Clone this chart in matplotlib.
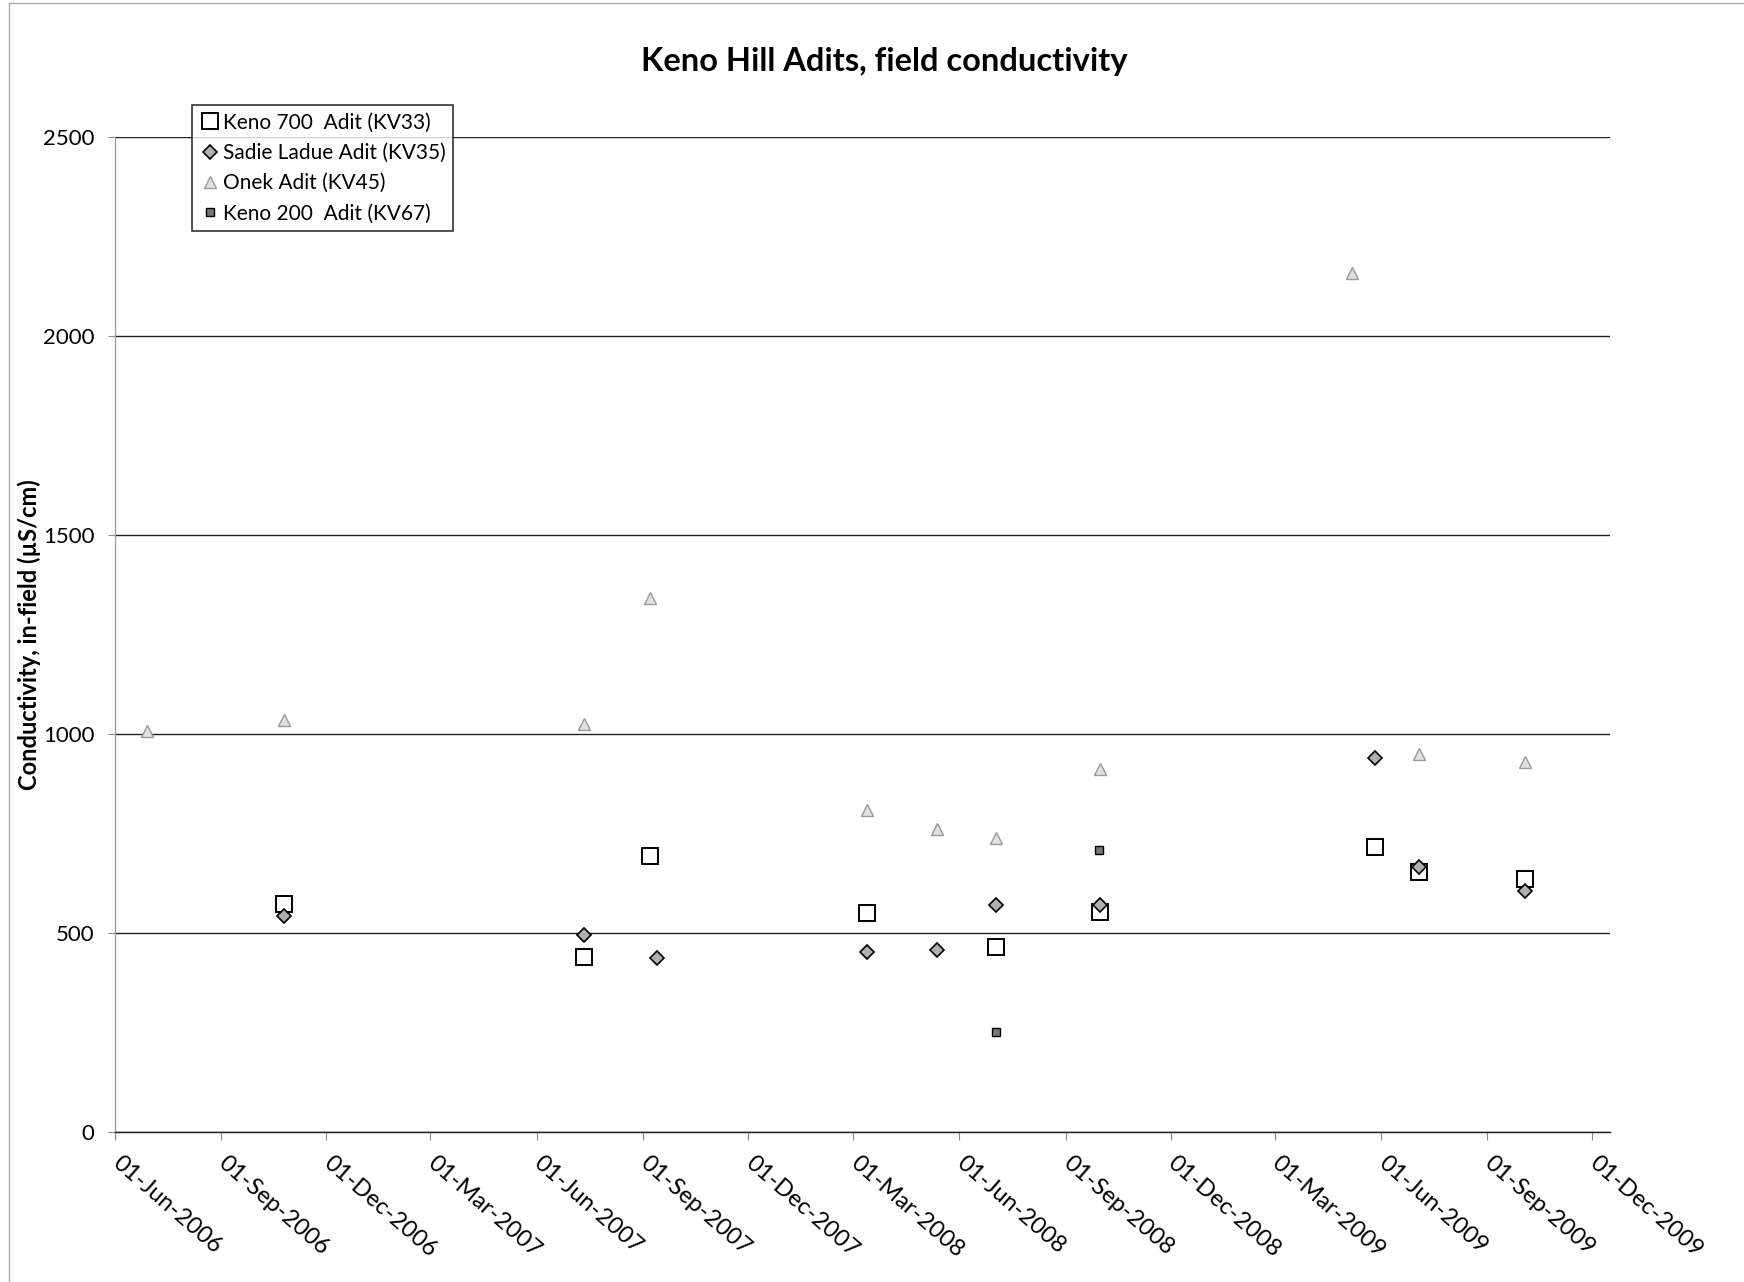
import datetime as dt
import matplotlib
matplotlib.use('Agg')
import matplotlib.pyplot as plt
import matplotlib.dates as mdates
from matplotlib.lines import Line2D

plt.rcParams['font.family'] = ['Lato', 'DejaVu Sans']

D = dt.date

# Keno 700 Adit (KV33)
kv33_dates = [D(2006, 10, 25), D(2007, 7, 12), D(2007, 9, 7), D(2008, 3, 13), D(2008, 7, 3),
              D(2008, 10, 1), D(2009, 5, 27), D(2009, 7, 4), D(2009, 10, 4)]
kv33_vals = [573, 441, 693, 550, 466, 553, 715, 654, 637]

# Sadie Ladue Adit (KV35)
kv35_dates = [D(2006, 10, 25), D(2007, 7, 12), D(2007, 9, 13), D(2008, 3, 13), D(2008, 5, 13),
              D(2008, 7, 3), D(2008, 10, 1), D(2009, 5, 27), D(2009, 7, 4), D(2009, 10, 4)]
kv35_vals = [542, 494, 438, 452, 458, 570, 570, 941, 665, 606]

# Onek Adit (KV45)
kv45_dates = [D(2006, 6, 29), D(2006, 10, 25), D(2007, 7, 12), D(2007, 9, 7), D(2008, 3, 13),
              D(2008, 5, 13), D(2008, 7, 3), D(2008, 10, 1), D(2009, 5, 7), D(2009, 7, 4),
              D(2009, 10, 4)]
kv45_vals = [1008, 1036, 1025, 1343, 810, 762, 740, 911, 2159, 950, 930]

# Keno 200 Adit (KV67)
kv67_dates = [D(2008, 7, 3), D(2008, 9, 30)]
kv67_vals = [251, 709]

series = [
    ('Keno 700  Adit (KV33)', kv33_dates, kv33_vals,
     dict(marker='s', ms=12, mfc='white', mec='black', mew=1.4)),
    ('Sadie Ladue Adit (KV35)', kv35_dates, kv35_vals,
     dict(marker='D', ms=7, mfc='#b0b0b0', mec='black', mew=1.2)),
    ('Onek Adit (KV45)', kv45_dates, kv45_vals,
     dict(marker='^', ms=9, mfc='#e0e0e0', mec='#9a9a9a', mew=1.0)),
    ('Keno 200  Adit (KV67)', kv67_dates, kv67_vals,
     dict(marker='s', ms=6, mfc='#777777', mec='black', mew=1.0)),
]

fig = plt.figure(figsize=(17.44, 12.82), dpi=100)
ax = fig.add_axes([0.066, 0.117, 0.857, 0.776])

for name, dates, vals, style in series:
    ax.plot(dates, vals, linestyle='none', label=name, **style)

ax.set_ylim(0, 2500)
ax.set_yticks([0, 500, 1000, 1500, 2000, 2500])
ax.set_xlim(D(2006, 6, 1), D(2009, 12, 16))
ax.xaxis.set_major_locator(mdates.MonthLocator(bymonth=[3, 6, 9, 12], bymonthday=1))
ax.xaxis.set_major_formatter(mdates.DateFormatter('%d-%b-%Y'))

ax.yaxis.grid(True, color='#222222', lw=1.0)
ax.set_axisbelow(True)
for s in ['top', 'right']:
    ax.spines[s].set_visible(False)
ax.spines['left'].set_color('#999999')
ax.spines['left'].set_linewidth(0.9)
ax.spines['bottom'].set_color('#222222')
ax.spines['bottom'].set_linewidth(1.0)

ax.tick_params(axis='y', labelsize=16, length=5, color='#888888', pad=10)
ax.tick_params(axis='x', labelsize=17, length=6, color='#888888', pad=14)
for lbl in ax.get_xticklabels():
    lbl.set_rotation(-41)
    lbl.set_rotation_mode('anchor')
    lbl.set_ha('left')
    lbl.set_va('center')

fig.text(0.507, 0.952, 'Keno Hill Adits, field conductivity', ha='center', va='center',
         fontsize=23.5, fontweight='bold')
fig.text(0.017, 0.505, 'Conductivity, in-field (\u00b5S/cm)', rotation=90, ha='center',
         va='center', fontsize=17, fontweight='bold')

leg = ax.legend(loc='upper left', bbox_to_anchor=(0.110, 0.918), bbox_transform=fig.transFigure,
                fontsize=15, frameon=True, fancybox=False, borderpad=0.35, handletextpad=0.15,
                handlelength=1.0, labelspacing=0.5, borderaxespad=0)
leg.get_frame().set_edgecolor('black')
leg.get_frame().set_linewidth(1.2)

# chart area border (left and top edges visible in the scan)
fig.add_artist(Line2D([0.005, 0.005], [0.0, 0.998], transform=fig.transFigure, color='#aaaaaa', lw=1))
fig.add_artist(Line2D([0.005, 1.0], [0.998, 0.998], transform=fig.transFigure, color='#aaaaaa', lw=1))

fig.savefig('out.png', dpi=100)
